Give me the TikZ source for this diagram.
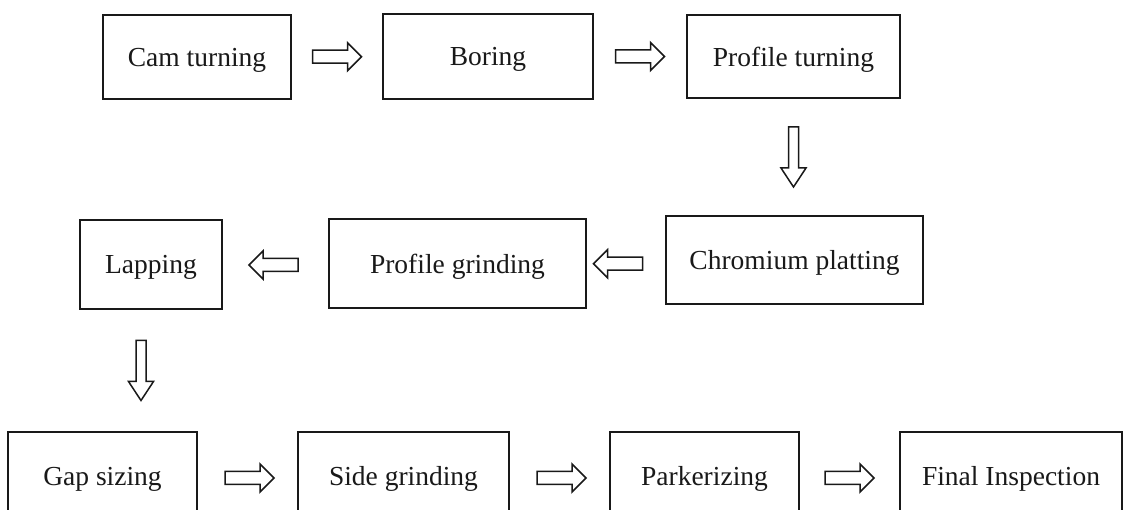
\documentclass[tikz,border=0pt]{standalone}
\usepackage{fontspec}
\setmainfont{Liberation Serif}
\usetikzlibrary{calc}

\tikzset{
  stepbox/.style={draw=black!90, line width=1.6pt, fill=white, inner sep=0pt,
    text depth=0pt, font=\fontsize{27.5}{30}\selectfont, text=black!90},
  arrowline/.style={draw=black!90, line width=1.5pt, line join=miter, fill=white},
  % hollow block arrow pointing right (rotate for left)
  harrow/.pic={\draw[arrowline] (-24.5,-6.5) -- (10.5,-6.5) -- (10.5,-14) -- (24.5,0)
      -- (10.5,14) -- (10.5,6.5) -- (-24.5,6.5) -- cycle;},
  % hollow block arrow pointing down
  varrow/.pic={\draw[arrowline] (-5,-30) -- (5,-30) -- (5,11) -- (12.5,11) -- (0,30)
      -- (-12.5,11) -- (-5,11) -- (-5,-30) -- cycle;}
}

\begin{document}
\begin{tikzpicture}[x=1pt,y=-1pt]
\useasboundingbox[fill=white] (0,0) rectangle (1128,510);

% first row
\node[stepbox, minimum width=188pt, minimum height=84pt] (cam) at (197,57) {Cam turning};
\node[stepbox, minimum width=210pt, minimum height=85pt] (bor) at (488,56.5) {Boring};
\node[stepbox, minimum width=213pt, minimum height=83pt] (prt) at (793.5,56.5) {Profile turning};

% second row
\node[stepbox, minimum width=257pt, minimum height=88pt] (chr) at (794.5,260) {Chromium platting};
\node[stepbox, minimum width=257pt, minimum height=89pt] (prg) at (457.5,263.5) {Profile grinding};
\node[stepbox, minimum width=142pt, minimum height=89pt] (lap) at (151,264.5) {Lapping};

% third row
\node[stepbox, minimum width=189pt, minimum height=88pt] (gap) at (102.5,476) {Gap sizing};
\node[stepbox, minimum width=211pt, minimum height=88pt] (sid) at (403.5,476) {Side grinding};
\node[stepbox, minimum width=189pt, minimum height=88pt] (par) at (704.5,476) {Parkerizing};
\node[stepbox, minimum width=222pt, minimum height=88pt] (fin) at (1011,476) {Final Inspection};

% connectors
\pic at ($(cam.east)!.5!(bor.west)$) {harrow};
\pic at ($(bor.east)!.5!(prt.west)$) {harrow};
\pic at ($(prt.south)!.5!(chr.north -| prt.south)$) {varrow};
\pic[rotate=180] at ($(chr.west)!.5!(prg.east)+(-8,2)$) {harrow};
\pic[rotate=180] at ($(prg.west)!.5!(lap.east)+(-2,1)$) {harrow};
\pic at ($(lap.south)!.5!(gap.north -| lap.south)+(-10,0)$) {varrow};
\pic at ($(gap.east)!.5!(sid.west)+(2,2)$) {harrow};
\pic at ($(sid.east)!.5!(par.west)+(2,2)$) {harrow};
\pic at ($(par.east)!.5!(fin.west)+(0,2)$) {harrow};
\end{tikzpicture}
\end{document}
